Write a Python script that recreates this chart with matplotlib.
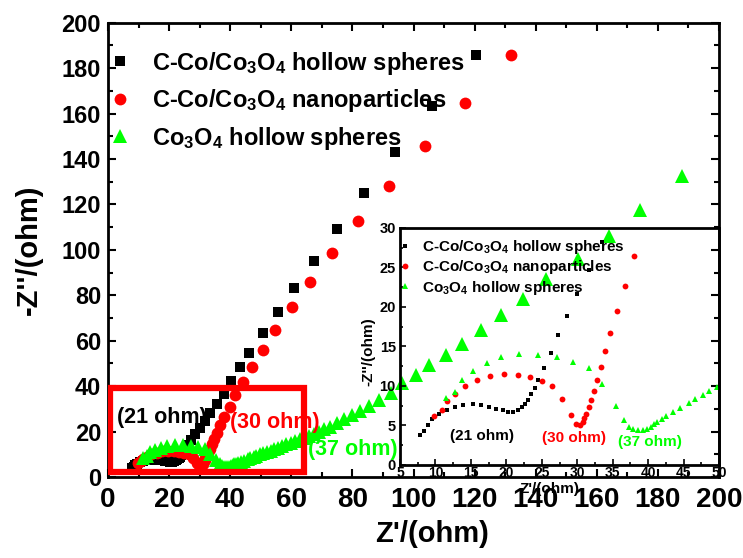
import matplotlib
matplotlib.use("Agg")
import matplotlib.pyplot as plt
from matplotlib.patches import Rectangle
from matplotlib.ticker import MultipleLocator

plt.rcParams["font.family"] = ["Liberation Sans", "DejaVu Sans"]
plt.rcParams["mathtext.default"] = "regular"

# EIS data (Z' , -Z'')
hs_x = [7.8, 8.4, 8.9, 9.5, 10.5, 11.6, 12.8, 13.9, 15.3, 16.4, 17.5, 18.5, 19.5, 20.3,
        21.0, 21.7, 22.2, 22.6, 23.1, 23.5, 24.0, 24.4, 25.3, 26.3, 27.3, 28.6, 30.0,
        31.7, 33.5, 35.6, 37.8, 40.3, 43.3, 46.3, 50.7, 55.5, 60.9, 67.3, 74.8, 83.7,
        94.0, 106.0, 120.3]
hs_y = [3.8, 4.3, 5.1, 5.8, 6.4, 7.0, 7.4, 7.65, 7.7, 7.65, 7.4, 7.1, 6.9, 6.75,
        6.7, 6.9, 7.3, 7.7, 8.2, 9.0, 9.7, 10.7, 12.3, 14.2, 16.4, 18.8, 21.6,
        24.7, 28.2, 32.2, 36.4, 42.3, 48.2, 54.8, 63.3, 72.6, 83.1, 95.2, 109.3, 125.0,
        143.0, 163.5, 185.9]

np_x = [9.8, 10.9, 11.6, 12.7, 14.2, 15.9, 17.7, 19.7, 21.6, 23.3, 25.0, 26.5, 27.8,
        29.1, 29.8, 30.4, 30.8, 31.0, 31.2, 31.6, 31.9, 32.4, 32.8, 33.3, 33.9, 34.6,
        35.6, 36.7, 38.0, 39.8, 41.6, 44.2, 47.1, 50.6, 54.8, 60.2, 66.0, 73.3, 81.7,
        92.0, 103.6, 116.7, 131.8]
np_y = [6.2, 6.9, 8.1, 9.0, 10.0, 10.7, 11.3, 11.5, 11.4, 11.1, 10.6, 10.0, 8.4,
        6.3, 5.25, 5.0, 5.5, 5.9, 6.5, 7.3, 8.2, 9.4, 10.7, 12.4, 14.4, 16.7,
        19.5, 22.7, 26.4, 31.0, 36.1, 42.0, 48.3, 55.9, 64.8, 75.0, 86.0, 98.5, 112.8,
        128.3, 145.8, 164.8, 185.9]

co_x = [11.5, 12.8, 13.8, 15.3, 17.2, 19.3, 21.8, 24.5, 27.1, 29.4, 31.6, 33.5, 35.5,
        36.6, 37.3, 37.9, 38.6, 39.3, 39.9, 40.4, 40.8, 41.3, 41.9, 42.5, 43.5, 44.5,
        45.7, 46.6, 47.7, 48.6, 49.7, 50.8, 52.0, 53.2, 54.4, 55.7, 57.0, 58.4, 59.8,
        61.2, 62.7, 64.2, 65.7, 67.3, 69.0, 70.6, 72.8, 75.0, 77.4, 79.9, 82.4, 85.3,
        88.6, 92.7, 96.3, 100.7, 105.0, 110.5, 116.0, 122.0, 128.5, 136.0, 143.3,
        153.7, 164.0, 174.2, 187.8]
co_y = [8.5, 9.3, 10.8, 11.9, 12.95, 13.65, 14.0, 13.95, 13.65, 13.0, 12.3, 10.2, 7.5,
        5.75, 4.8, 4.6, 4.4, 4.4, 4.5, 4.8, 5.2, 5.5, 5.8, 6.2, 6.7, 7.2,
        7.9, 8.4, 8.8, 9.4, 9.9, 10.4, 11.0, 11.6, 12.2, 12.9, 13.6, 14.3, 15.1,
        15.8, 16.6, 17.3, 18.1, 18.8, 20.0, 21.0, 22.2, 23.6, 25.4, 27.3, 29.2, 31.3,
        33.9, 37.1, 41.3, 44.9, 49.3, 53.7, 58.6, 64.8, 71.1, 78.4, 87.1,
        95.9, 106.2, 117.6, 132.7]

labels = ["C-Co/Co$_3$O$_4$ hollow spheres",
          "C-Co/Co$_3$O$_4$ nanoparticles",
          "Co$_3$O$_4$ hollow spheres"]
green = "#00ff00"

fig = plt.figure(figsize=(7.43, 5.58), dpi=100)
ax = fig.add_axes([0.1454, 0.1452, 0.8223, 0.8141])

ax.plot(hs_x, hs_y, "s", color="black", ms=7, mew=0, label=labels[0])
ax.plot(np_x, np_y, "o", color="red", ms=8.5, mew=0, label=labels[1])
ax.plot(co_x, co_y, "^", color=green, ms=9.5, mew=0, label=labels[2])

ax.add_patch(Rectangle((0.8, 2.0), 63.5, 37.2, fill=False, edgecolor="red", lw=4.5, zorder=5))

ax.set_xlim(0, 200)
ax.set_ylim(0, 200)
ax.xaxis.set_major_locator(MultipleLocator(20))
ax.xaxis.set_minor_locator(MultipleLocator(10))
ax.yaxis.set_major_locator(MultipleLocator(20))
ax.yaxis.set_minor_locator(MultipleLocator(10))
ax.tick_params(which="both", direction="in", top=True, right=True, width=1.5)
ax.tick_params(which="major", length=6)
ax.tick_params(which="minor", length=3.5)
ax.tick_params(axis="x", labelsize=20, pad=7)
ax.tick_params(axis="y", labelsize=17, pad=5)
for lab in ax.get_xticklabels() + ax.get_yticklabels():
    lab.set_fontweight("bold")
for sp in ax.spines.values():
    sp.set_linewidth(2)

ax.set_xlabel("Z'/(ohm)", fontsize=21, fontweight="bold")
ax.set_ylabel("-Z''/(ohm)", fontsize=21, fontweight="bold")
ax.xaxis.set_label_coords(0.53, -0.095)
ax.yaxis.set_label_coords(-0.107, 0.5)

ax.legend(loc="upper left", bbox_to_anchor=(0.0, 0.941), frameon=False,
          prop={"size": 17, "weight": "bold"}, handlelength=1.0, handletextpad=0.86,
          labelspacing=0.45, borderpad=0, borderaxespad=0)

ax.text(3, 26, "(21 ohm)", color="black", fontsize=15.5, fontweight="bold", va="center", zorder=6)
ax.text(40, 24, "(30 ohm)", color="red", fontsize=15.5, fontweight="bold", va="center", zorder=6)
ax.text(65.6, 12, "(37 ohm)", color=green, fontsize=15.5, fontweight="bold", va="center", zorder=6)

# inset: zoom of the high-frequency region
ins = fig.add_axes([0.5384, 0.1667, 0.4293, 0.4247])
ins.patch.set_alpha(0)
ins.plot(hs_x, hs_y, "s", color="black", ms=3.4, mew=0, label=labels[0])
ins.plot(np_x, np_y, "o", color="red", ms=4.2, mew=0, label=labels[1])
ins.plot(co_x, co_y, "^", color=green, ms=4.8, mew=0, label=labels[2])
ins.set_xlim(5, 50)
ins.set_ylim(0, 30)
ins.xaxis.set_major_locator(MultipleLocator(5))
ins.xaxis.set_minor_locator(MultipleLocator(2.5))
ins.yaxis.set_major_locator(MultipleLocator(5))
ins.yaxis.set_minor_locator(MultipleLocator(2.5))
ins.tick_params(which="both", direction="in", width=1.2)
ins.tick_params(which="major", length=4)
ins.tick_params(which="minor", length=2.5)
ins.tick_params(axis="x", labelsize=10, pad=1)
ins.tick_params(axis="y", labelsize=10.5, pad=3)
for lab in ins.get_xticklabels() + ins.get_yticklabels():
    lab.set_fontweight("bold")
for sp in ins.spines.values():
    sp.set_linewidth(2)
ins.set_xlabel("Z'/(ohm)", fontsize=11, fontweight="bold")
ins.set_ylabel("-Z''/(ohm)", fontsize=11, fontweight="bold")
ins.xaxis.set_label_coords(0.47, -0.072)
ins.yaxis.set_label_coords(-0.078, 0.477)
ins.legend(loc="upper left", bbox_to_anchor=(-0.008, 0.958), frameon=False,
           prop={"size": 11, "weight": "bold"}, handlelength=1.0, handletextpad=0.6,
           labelspacing=0.15, borderpad=0, borderaxespad=0)
ins.text(12.0, 3.7, "(21 ohm)", color="black", fontsize=11, fontweight="bold", va="center")
ins.text(25.0, 3.4, "(30 ohm)", color="red", fontsize=11, fontweight="bold", va="center")
ins.text(35.7, 2.9, "(37 ohm)", color=green, fontsize=11, fontweight="bold", va="center")

fig.savefig("out.png", dpi=100)
